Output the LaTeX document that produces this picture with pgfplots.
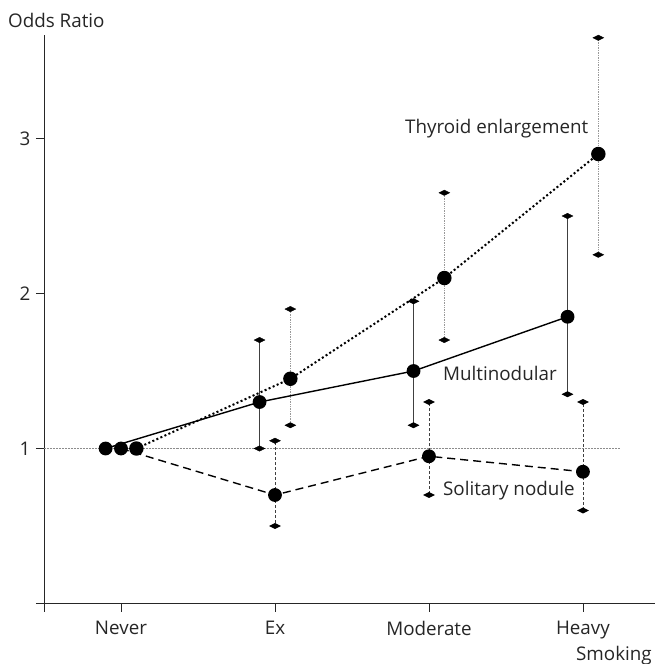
\documentclass[border=0pt]{standalone}
\usepackage{pgfplots}
\usepackage{pgfplotstable}
\pgfplotsset{compat=1.18}
\usepackage{fontspec}
\setmainfont{Open Sans}

% Odds ratios with 95% confidence limits by smoking category
% (x positions are offset slightly so the three series do not overlap)
\pgfplotstableread{
x    y    lo   hi
0.1  1.00 1.00 1.00
1.1  1.45 1.15 1.90
2.1  2.10 1.70 2.65
3.1  2.90 2.25 3.65
}\thyroid
\pgfplotstableread{
x    y    lo   hi
-0.1 1.00 1.00 1.00
0.9  1.30 1.00 1.70
1.9  1.50 1.15 1.95
2.9  1.85 1.35 2.50
}\multinod
\pgfplotstableread{
x    y    lo   hi
0.0  1.00 1.00 1.00
1.0  0.70 0.50 1.05
2.0  0.95 0.70 1.30
3.0  0.85 0.60 1.30
}\solitary

\begin{document}
\begin{tikzpicture}[font=\fontsize{18.8bp}{22bp}\selectfont]
\begin{axis}[
  scale only axis, width=611bp, height=568.5bp,
  xmin=-0.5, xmax=3.468, ymin=0, ymax=3.668,
  axis lines*=left,
  axis line style={line width=1pt, color=black!85},
  tick align=outside, major tick length=8bp,
  tick style={line width=0.8pt, color=black!85},
  xtick={-0.5,0,1,2,3}, xticklabels={,Never,Ex,Moderate,Heavy},
  ytick={0,1,2,3}, yticklabels={,1,2,3},
  /pgf/number format/assume math mode=true,
  tick label style={text=black!85},
  xticklabel style={yshift=-6bp},
  yticklabel style={xshift=-2bp},
  clip=false,
]
\coordinate (o) at (rel axis cs:0,0);

% reference line at OR = 1
\addplot[forget plot, black!45, line width=0.5pt, densely dotted] coordinates {(-0.5,1) (3.24,1)};

% confidence intervals
\addplot[forget plot, draw=none, mark=none, skip coords between index={0}{1},
  error bars/.cd, y dir=both, y explicit,
  error bar style={draw=black!40, line width=0.7pt, densely dotted},
  error mark=diamond*,
  error mark options={solid, draw=black, fill=black, mark size=3bp, xscale=1.2, yscale=1.8}]
  table[x=x, y=y, y error plus expr=\thisrow{hi}-\thisrow{y}, y error minus expr=\thisrow{y}-\thisrow{lo}] {\thyroid};
\addplot[forget plot, draw=none, mark=none, skip coords between index={0}{1},
  error bars/.cd, y dir=both, y explicit,
  error bar style={draw=black!75, line width=1pt, solid},
  error mark=diamond*,
  error mark options={solid, draw=black, fill=black, mark size=3bp, xscale=1.2, yscale=1.8}]
  table[x=x, y=y, y error plus expr=\thisrow{hi}-\thisrow{y}, y error minus expr=\thisrow{y}-\thisrow{lo}] {\multinod};
\addplot[forget plot, draw=none, mark=none, skip coords between index={0}{1},
  error bars/.cd, y dir=both, y explicit,
  error bar style={draw=black!75, line width=0.8pt, dash pattern=on 3bp off 2bp},
  error mark=diamond*,
  error mark options={solid, draw=black, fill=black, mark size=3bp, xscale=1.2, yscale=1.8}]
  table[x=x, y=y, y error plus expr=\thisrow{hi}-\thisrow{y}, y error minus expr=\thisrow{y}-\thisrow{lo}] {\solitary};

% point estimates
\addplot[black, line width=2bp, dash pattern=on 2bp off 2.4bp,
  mark=*, mark size=6.2bp, mark options={solid, fill=black}]
  table[x=x, y=y] {\thyroid};
\addplot[black, line width=1.4bp,
  mark=*, mark size=6.2bp, mark options={solid, fill=black}]
  table[x=x, y=y] {\multinod};
\addplot[black, line width=1.4bp, dash pattern=on 8bp off 5bp,
  mark=*, mark size=6.2bp, mark options={solid, fill=black}]
  table[x=x, y=y] {\solitary};

% labels
\node[anchor=base west, inner sep=0pt, text=black!85] at (axis cs:1.844,3.035) {Thyroid enlargement};
\node[anchor=base west, inner sep=0pt, text=black!85] at (axis cs:2.091,1.437) {Multinodular};
\node[anchor=base west, inner sep=0pt, text=black!85] at (axis cs:2.091,0.695) {Solitary nodule};
\node[anchor=base west, inner sep=0pt, text=black!85] at (axis cs:-0.734,3.717) {Odds Ratio};
\node[anchor=base east, inner sep=0pt, text=black!85] at (axis cs:3.448,-0.365) {Smoking};
\end{axis}
\pgfresetboundingbox
\path[use as bounding box] (o) ++(-44bp,-60.5bp) rectangle ++(656bp,664bp);
\end{tikzpicture}
\end{document}
